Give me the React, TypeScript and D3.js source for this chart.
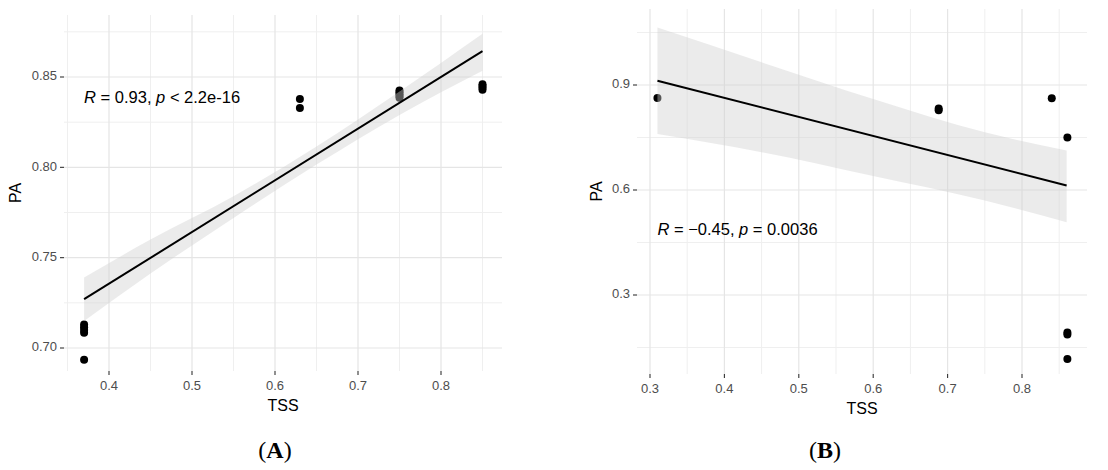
import React from 'react';
import * as d3 from 'd3';

// ---- panel A data ----
const pointsA_tss = [0.37, 0.37, 0.37, 0.37, 0.37, 0.63, 0.63, 0.75, 0.75, 0.75, 0.75, 0.75, 0.85, 0.85, 0.85, 0.85];
const pointsA_pa = [0.6935, 0.7085, 0.71, 0.7115, 0.713, 0.8328, 0.8378, 0.8385, 0.8395, 0.8405, 0.8415, 0.8425, 0.843, 0.844, 0.845, 0.846];
const fitA_tss = [0.37, 0.85];
const fitA_pa = [0.727, 0.8643];
const bandA_tss = [0.37, 0.45, 0.55, 0.65, 0.75, 0.85];
const bandA_lo = [0.715, 0.7412, 0.772, 0.8015, 0.829, 0.8535];
const bandA_hi = [0.739, 0.76, 0.784, 0.8115, 0.842, 0.874];
const ticksA_x = [0.4, 0.5, 0.6, 0.7, 0.8];
const ticksA_y = [0.7, 0.75, 0.8, 0.85];
const minorA_x = [0.35, 0.45, 0.55, 0.65, 0.75, 0.85];
const minorA_y = [0.725, 0.775, 0.825, 0.875];
const labelA = { tss: 0.37, pa: 0.8378, r: '0.93', rel: '<', p: '2.2e-16' };

// ---- panel B data ----
const pointsB_tss = [0.31, 0.688, 0.688, 0.84, 0.861, 0.861, 0.861, 0.861];
const pointsB_pa = [0.863, 0.828, 0.833, 0.862, 0.75, 0.187, 0.193, 0.117];
const fitB_tss = [0.31, 0.86];
const fitB_pa = [0.912, 0.613];
const bandB_tss = [0.31, 0.45, 0.6, 0.75, 0.86];
const bandB_lo = [0.76, 0.708, 0.64, 0.57, 0.508];
const bandB_hi = [1.064, 0.965, 0.86, 0.765, 0.713];
const ticksB_x = [0.3, 0.4, 0.5, 0.6, 0.7, 0.8];
const ticksB_y = [0.3, 0.6, 0.9];
const minorB_x = [0.35, 0.45, 0.55, 0.65, 0.75, 0.85];
const minorB_y = [0.15, 0.45, 0.75, 1.05];
const labelB = { tss: 0.31, pa: 0.483, r: '\u22120.45', rel: '=', p: '0.0036' };

const SANS = "'Liberation Sans', Arial, sans-serif";

type PanelProps = {
  box: { left: number; right: number; top: number; bottom: number };
  x: d3.ScaleLinear<number, number>;
  y: d3.ScaleLinear<number, number>;
  ptsX: number[]; ptsY: number[];
  fitX: number[]; fitY: number[];
  bandX: number[]; bandLo: number[]; bandHi: number[];
  ticksX: number[]; ticksY: number[];
  minorX: number[]; minorY: number[];
  yFmt: (v: number) => string;
  label: { tss: number; pa: number; r: string; rel: string; p: string };
  yTitleX: number;
  caption: string; captionX: number;
};

const Panel = (props: PanelProps) => {
  const { box, x, y } = props;
  const inX = (v: number) => x(v) >= box.left && x(v) <= box.right;
  const inY = (v: number) => y(v) >= box.top && y(v) <= box.bottom;

  const band = props.bandX.map((t, i) => ({ t, lo: props.bandLo[i], hi: props.bandHi[i] }));
  const area = d3.area<{ t: number; lo: number; hi: number }>()
    .x(d => x(d.t))
    .y0(d => y(d.lo))
    .y1(d => y(d.hi))
    .curve(d3.curveMonotoneX);
  const line = d3.line<number>()
    .x((d, i) => x(props.fitX[i]))
    .y(d => y(d));

  const midX = (box.left + box.right) / 2;
  const midY = (box.top + box.bottom) / 2;

  return (
    <g>
      {/* minor grid */}
      {props.minorX.filter(inX).map(v => (
        <line key={'mx' + v} x1={x(v)} x2={x(v)} y1={box.top} y2={box.bottom} stroke="#efefef" strokeWidth={1} />
      ))}
      {props.minorY.filter(inY).map(v => (
        <line key={'my' + v} x1={box.left} x2={box.right} y1={y(v)} y2={y(v)} stroke="#efefef" strokeWidth={1} />
      ))}
      {/* major grid */}
      {props.ticksX.map(v => (
        <line key={'gx' + v} x1={x(v)} x2={x(v)} y1={box.top} y2={box.bottom} stroke="#e5e5e5" strokeWidth={1.2} />
      ))}
      {props.ticksY.map(v => (
        <line key={'gy' + v} x1={box.left} x2={box.right} y1={y(v)} y2={y(v)} stroke="#e5e5e5" strokeWidth={1.2} />
      ))}

      {/* points */}
      {props.ptsX.map((t, i) => (
        <circle key={'p' + i} cx={x(t)} cy={y(props.ptsY[i])} r={4} fill="#000" />
      ))}

      {/* confidence band + fit */}
      <path d={area(band) || ''} fill="#cfcfcf" fillOpacity={0.42} />
      <path d={line(props.fitY) || ''} fill="none" stroke="#000" strokeWidth={2} />

      {/* axes ticks and labels */}
      {props.ticksX.map(v => (
        <g key={'tx' + v}>
          <line x1={x(v)} x2={x(v)} y1={box.bottom} y2={box.bottom + 4} stroke="#333" strokeWidth={1.1} />
          <text x={x(v)} y={box.bottom + 16} textAnchor="middle" dominantBaseline="middle"
            fontFamily={SANS} fontSize={13} fill="#4d4d4d">{d3.format('.1f')(v)}</text>
        </g>
      ))}
      {props.ticksY.map(v => (
        <g key={'ty' + v}>
          <line x1={box.left - 4} x2={box.left} y1={y(v)} y2={y(v)} stroke="#333" strokeWidth={1.1} />
          <text x={box.left - 7} y={y(v)} textAnchor="end" dominantBaseline="middle"
            fontFamily={SANS} fontSize={13} fill="#4d4d4d">{props.yFmt(v)}</text>
        </g>
      ))}

      <text x={midX} y={box.bottom + 36} textAnchor="middle" dominantBaseline="middle"
        fontFamily={SANS} fontSize={16} fill="#000">TSS</text>
      <text transform={`translate(${props.yTitleX},${midY}) rotate(-90)`} textAnchor="middle" dominantBaseline="middle"
        fontFamily={SANS} fontSize={16} fill="#000">PA</text>

      {/* correlation label */}
      <text x={x(props.label.tss)} y={y(props.label.pa)} dominantBaseline="middle"
        fontFamily={SANS} fontSize={16.5} fill="#000">
        <tspan fontStyle="italic">R</tspan>
        <tspan>{` = ${props.label.r}, `}</tspan>
        <tspan fontStyle="italic">p</tspan>
        <tspan>{` ${props.label.rel} ${props.label.p}`}</tspan>
      </text>

      {/* caption */}
      <text x={props.captionX} y={458} textAnchor="middle" fontFamily="'Liberation Serif', 'Times New Roman', serif"
        fontSize={24} fill="#000">
        <tspan>(</tspan><tspan fontWeight="bold">{props.caption}</tspan><tspan>)</tspan>
      </text>
    </g>
  );
};

const App = () => {
  const boxA = { left: 64, right: 502, top: 15, bottom: 371 };
  const xA = d3.scaleLinear().domain([0.4, 0.8]).range([109, 441]);
  const yA = d3.scaleLinear().domain([0.7, 0.85]).range([348, 77]);

  const boxB = { left: 637, right: 1087, top: 9, bottom: 374 };
  const xB = d3.scaleLinear().domain([0.3, 0.8]).range([650, 1022]);
  const yB = d3.scaleLinear().domain([0.3, 0.9]).range([295, 85]);

  return (
    <svg width={1108} height={470} style={{ position: 'absolute', left: 0, top: 0, background: '#fff' }}>
      <Panel box={boxA} x={xA} y={yA}
        ptsX={pointsA_tss} ptsY={pointsA_pa}
        fitX={fitA_tss} fitY={fitA_pa}
        bandX={bandA_tss} bandLo={bandA_lo} bandHi={bandA_hi}
        ticksX={ticksA_x} ticksY={ticksA_y} minorX={minorA_x} minorY={minorA_y}
        yFmt={d3.format('.2f')} label={labelA} yTitleX={17}
        caption="A" captionX={275} />
      <Panel box={boxB} x={xB} y={yB}
        ptsX={pointsB_tss} ptsY={pointsB_pa}
        fitX={fitB_tss} fitY={fitB_pa}
        bandX={bandB_tss} bandLo={bandB_lo} bandHi={bandB_hi}
        ticksX={ticksB_x} ticksY={ticksB_y} minorX={minorB_x} minorY={minorB_y}
        yFmt={d3.format('.1f')} label={labelB} yTitleX={598}
        caption="B" captionX={825} />
    </svg>
  );
};

export default App;
